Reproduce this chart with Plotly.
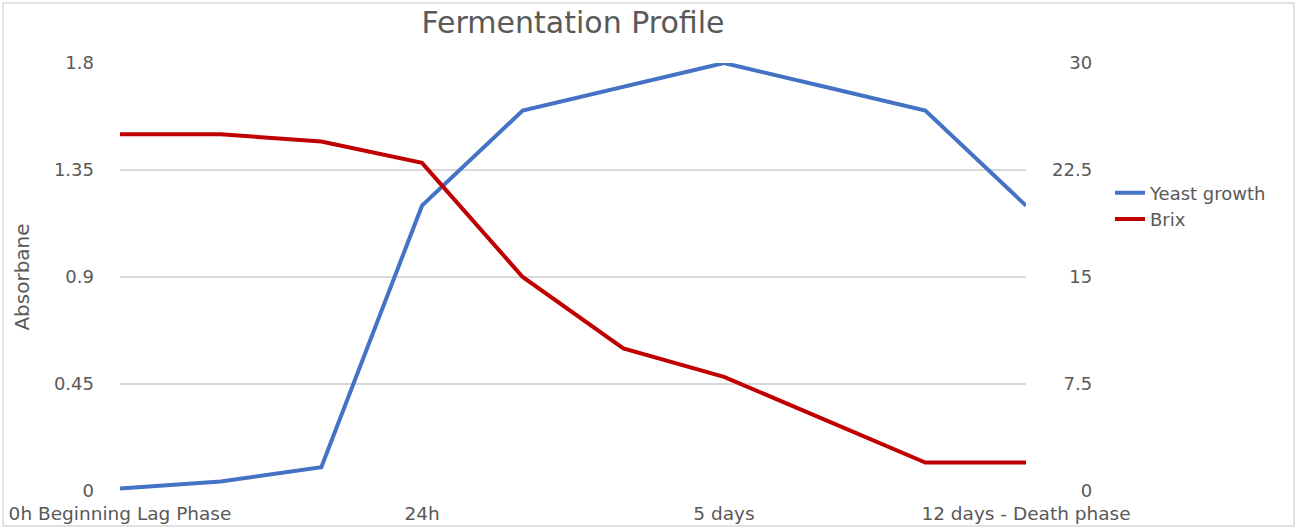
import plotly.graph_objects as go

# Category positions (10 time points); only some have visible labels
categories = list(range(10))
tick_positions = [0, 3, 6, 9]
tick_labels = ["0h Beginning Lag Phase", "24h", "5 days", "12 days - Death phase"]

yeast_growth = [0.01, 0.04, 0.10, 1.20, 1.60, 1.70, 1.80, 1.70, 1.60, 1.20]
brix = [25, 25, 24.5, 23, 15, 10, 8, 5, 2, 2]

left_ticks = [0, 0.45, 0.9, 1.35, 1.8]
left_tick_text = ["0", "0.45", "0.9", "1.35", "1.8"]
right_ticks = [0, 7.5, 15, 22.5, 30]
right_tick_text = ["0", "7.5", "15", "22.5", "30"]

FONT = "DejaVu Sans"
GREY = "#595959"


def right_align(label, widest="22.5"):
    # pad with figure / punctuation spaces so labels line up on their right edge
    pad_digits = sum(c.isdigit() for c in widest) - sum(c.isdigit() for c in label)
    pad_dots = widest.count(".") - label.count(".")
    return "\u2007" * pad_digits + "\u2008" * pad_dots + label


fig = go.Figure()
fig.add_trace(go.Scatter(x=categories, y=yeast_growth, mode="lines", name="Yeast growth",
                         line=dict(color="#4472C4", width=4)))
fig.add_trace(go.Scatter(x=categories, y=brix, mode="lines", name="Brix", yaxis="y2",
                         line=dict(color="#C00000", width=4)))

fig.update_layout(
    width=1298, height=530,
    margin=dict(l=120, r=272, t=63, b=39, autoexpand=False),
    paper_bgcolor="white", plot_bgcolor="white",
    font=dict(family=FONT, color=GREY, size=18),
    title=dict(text="Fermentation Profile", x=0.5, xref="paper", xanchor="center",
               y=1 - 22 / 530, yref="container", yanchor="middle",
               font=dict(family=FONT, size=30, color=GREY)),
    xaxis=dict(range=[0, 9], tickvals=tick_positions, ticktext=tick_labels,
               showgrid=False, zeroline=False, showline=False, ticks="", automargin=False,
               tickfont=dict(size=18.5, color=GREY), ticklabelstandoff=9),
    yaxis=dict(range=[0, 1.8], tickvals=left_ticks, ticktext=left_tick_text,
               showgrid=True, gridcolor="#D9D9D9", gridwidth=2, zeroline=False,
               showline=False, ticks="", tickfont=dict(size=18, color=GREY),
               ticklabelstandoff=25, automargin=False,
               title=dict(text="Absorbane", font=dict(size=20, color=GREY), standoff=18)),
    yaxis2=dict(range=[0, 30], tickvals=right_ticks,
                ticktext=[right_align(t) for t in right_tick_text],
                overlaying="y", side="right", showgrid=False, zeroline=False,
                showline=False, ticks="", tickfont=dict(size=18, color=GREY),
                ticklabelstandoff=25, automargin=False),
    legend=dict(x=(1110 - 120) / 906, xanchor="left", y=(491 - 206) / 428, yanchor="middle",
                font=dict(size=18, color=GREY), bgcolor="rgba(0,0,0,0)",
                tracegroupgap=0, itemwidth=30),
    showlegend=True,
    shapes=[dict(type="rect", xref="paper", yref="paper",
                 x0=(3 - 120) / 906, x1=(1294 - 120) / 906,
                 y0=(491 - 526) / 428, y1=(491 - 3) / 428,
                 line=dict(color="#D9D9D9", width=1.5), fillcolor="rgba(0,0,0,0)",
                 layer="below")],
)

fig.write_html("out.html", config={"displayModeBar": False},
               post_script="document.body.style.margin='0';")
